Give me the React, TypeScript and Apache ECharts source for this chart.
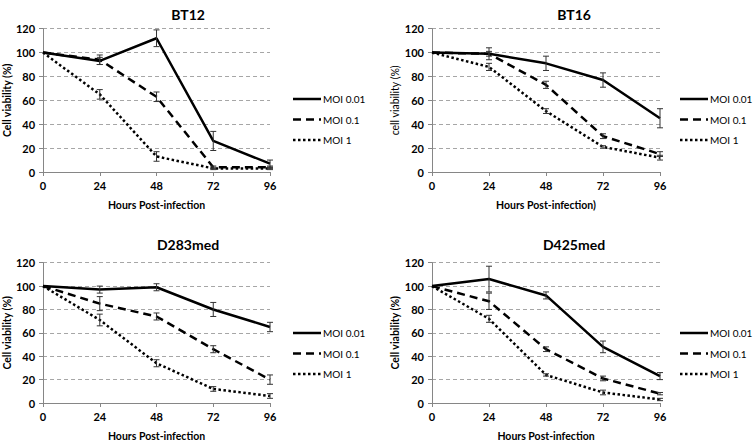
import React, { useEffect, useRef } from "react";
import * as echarts from "echarts";

// Hours post-infection (x values)
const hours = [0, 24, 48, 72, 96];
const xTicks = [0, 24, 48, 72, 96];
const seriesNames = ["MOI 0.01", "MOI 0.1", "MOI 1"];
const panelTitles = ["BT12", "BT16", "D283med", "D425med"];
const yAxisNames = ["Cell viability (%)", "cell viability (%)", "Cell viability (%)", "Cell viability (%)"];
const xAxisNames = ["Hours Post-infection", "Hours Post-infection)", "Hours Post-infection", "Hours Post-infection"];

// BT12
const bt12_moi001 = [100, 93, 112, 26, 7];
const bt12_moi01 = [100, 94, 63, 4, 4];
const bt12_moi1 = [100, 65, 13, 3, 3];
const bt12_err001 = [0, 3, 7, 8, 3];
const bt12_err01 = [0, 4, 4, 1, 1];
const bt12_err1 = [0, 4, 4, 1, 1];

// BT16
const bt16_moi001 = [100, 99, 91, 77, 45];
const bt16_moi01 = [100, 99, 73, 30, 15];
const bt16_moi1 = [100, 88, 51, 21, 12];
const bt16_err001 = [0, 5, 6, 6, 8];
const bt16_err01 = [0, 2, 3, 2, 2];
const bt16_err1 = [0, 3, 2, 1, 2];

// D283med
const d283_moi001 = [100, 97, 99, 80, 65];
const d283_moi01 = [100, 85, 74, 46, 20];
const d283_moi1 = [100, 71, 34, 12, 6];
const d283_err001 = [0, 3, 3, 6, 4];
const d283_err01 = [0, 6, 3, 3, 4];
const d283_err1 = [0, 5, 3, 2, 2];

// D425med
const d425_moi001 = [100, 106, 92, 48, 23];
const d425_moi01 = [100, 87, 46, 21, 8];
const d425_moi1 = [100, 72, 24, 9, 3];
const d425_err001 = [0, 11, 3, 5, 3];
const d425_err01 = [0, 7, 2, 2, 1];
const d425_err1 = [0, 3, 1, 2, 1];

const panelValues = [
  [bt12_moi001, bt12_moi01, bt12_moi1],
  [bt16_moi001, bt16_moi01, bt16_moi1],
  [d283_moi001, d283_moi01, d283_moi1],
  [d425_moi001, d425_moi01, d425_moi1],
];
const panelErrors = [
  [bt12_err001, bt12_err01, bt12_err1],
  [bt16_err001, bt16_err01, bt16_err1],
  [d283_err001, d283_err01, d283_err1],
  [d425_err001, d425_err01, d425_err1],
];

const FONT = "Lato, 'Open Sans', sans-serif";

const lineStyles: any[] = [
  { type: "solid", width: 2.5, color: "#000" },
  { type: [8, 5], width: 2.5, color: "#000" },
  { type: [2.5, 2.5], width: 2.5, color: "#000" },
];
const legendDash: any[] = [null, [8, 5], [2.5, 2.5]];
const legendWidth = [2.5, 2.5, 2.5];

export default function App() {
  const ref = useRef<HTMLDivElement>(null);
  useEffect(() => {
    if (!ref.current) return;
    const chart = echarts.init(ref.current, null, { renderer: "svg" });

    const grids = [
      { left: 42, top: 28.7, width: 228, height: 143.3 },
      { left: 432, top: 28.7, width: 228, height: 143.3 },
      { left: 42, top: 262.7, width: 228, height: 143.3 },
      { left: 432, top: 262.7, width: 228, height: 143.3 },
    ];
    const titleX = [183, 569, 183, 569];
    const titleY = [2, 2, 232, 232];
    const legendX = [293, 680, 293, 680];
    const legendY = [99, 99, 333, 333];

    const xAxes: any[] = [];
    const yAxes: any[] = [];
    const series: any[] = [];
    const titles: any[] = [];
    const graphics: any[] = [];

    grids.forEach((g, i) => {
      xAxes.push({
        type: "value",
        gridIndex: i,
        min: xTicks[0],
        max: xTicks[xTicks.length - 1],
        interval: 24,
        name: xAxisNames[i],
        nameLocation: "middle",
        nameGap: 27,
        nameTextStyle: { fontFamily: FONT, fontWeight: "bold", fontSize: 10.5, color: "#000" },
        axisLine: { show: true, lineStyle: { color: "#868686", width: 1 } },
        axisTick: { show: true, length: 4, lineStyle: { color: "#868686" } },
        axisLabel: { fontFamily: FONT, fontWeight: "bold", fontSize: 11, color: "#000", margin: 8 },
        splitLine: { show: false },
      });
      yAxes.push({
        type: "value",
        gridIndex: i,
        min: 0,
        max: 120,
        interval: 20,
        name: yAxisNames[i],
        nameLocation: "middle",
        nameGap: 30,
        nameTextStyle: {
          fontFamily: FONT,
          fontWeight: i === 1 ? "normal" : "bold",
          fontSize: 10.5,
          color: "#000",
        },
        axisLine: { show: true, lineStyle: { color: "#868686", width: 1 } },
        axisTick: { show: true, length: 4, lineStyle: { color: "#868686" } },
        axisLabel: { fontFamily: FONT, fontWeight: "bold", fontSize: 11, color: "#000", margin: 8 },
        splitLine: { show: true, lineStyle: { color: "#a6a6a6", type: [4, 3], width: 1 } },
      });
      titles.push({
        text: panelTitles[i],
        left: titleX[i],
        top: titleY[i],
        textAlign: "center",
        textStyle: { fontFamily: FONT, fontWeight: "bold", fontSize: 14, color: "#000" },
      });

      seriesNames.forEach((name, k) => {
        const y = legendY[i] + k * 20.5;
        graphics.push({
          type: "line",
          shape: { x1: legendX[i], y1: y, x2: legendX[i] + 28, y2: y },
          style: {
            stroke: "#000",
            lineWidth: legendWidth[k],
            lineDash: legendDash[k] || undefined,
          },
        });
        graphics.push({
          type: "text",
          x: legendX[i] + 30,
          y,
          style: {
            text: name,
            fontFamily: FONT,
            fontSize: 10,
            fill: "#000",
            verticalAlign: "middle",
            align: "left",
          },
        });

        const vals = panelValues[i][k];
        const errs = panelErrors[i][k];
        series.push({
          type: "line",
          name,
          xAxisIndex: i,
          yAxisIndex: i,
          data: hours.map((h, j) => [h, vals[j]]),
          symbol: "none",
          lineStyle: lineStyles[k],
          itemStyle: { color: "#000" },
          z: 3,
        });
        series.push({
          type: "custom",
          name: name + " error",
          xAxisIndex: i,
          yAxisIndex: i,
          data: hours
            .map((h, j) => [h, vals[j] - errs[j], vals[j] + errs[j]])
            .filter((d, j) => errs[j] > 0),
          renderItem: (params: any, api: any) => {
            const x = api.value(0);
            const lo = api.coord([x, api.value(1)]);
            const hi = api.coord([x, api.value(2)]);
            const w = 3;
            const st = { stroke: "#333", lineWidth: 1 };
            return {
              type: "group",
              children: [
                { type: "line", shape: { x1: lo[0], y1: lo[1], x2: hi[0], y2: hi[1] }, style: st },
                { type: "line", shape: { x1: lo[0] - w, y1: lo[1], x2: lo[0] + w, y2: lo[1] }, style: st },
                { type: "line", shape: { x1: hi[0] - w, y1: hi[1], x2: hi[0] + w, y2: hi[1] }, style: st },
              ],
            };
          },
          z: 4,
          silent: true,
        });
      });
    });

    chart.setOption({
      animation: false,
      backgroundColor: "#fff",
      title: titles,
      grid: grids,
      xAxis: xAxes,
      yAxis: yAxes,
      graphic: graphics,
      series,
    });
    return () => chart.dispose();
  }, []);
  return (
    <div
      ref={ref}
      style={{ position: "fixed", left: 0, top: 0, width: 756, height: 442, background: "#fff" }}
    />
  );
}
